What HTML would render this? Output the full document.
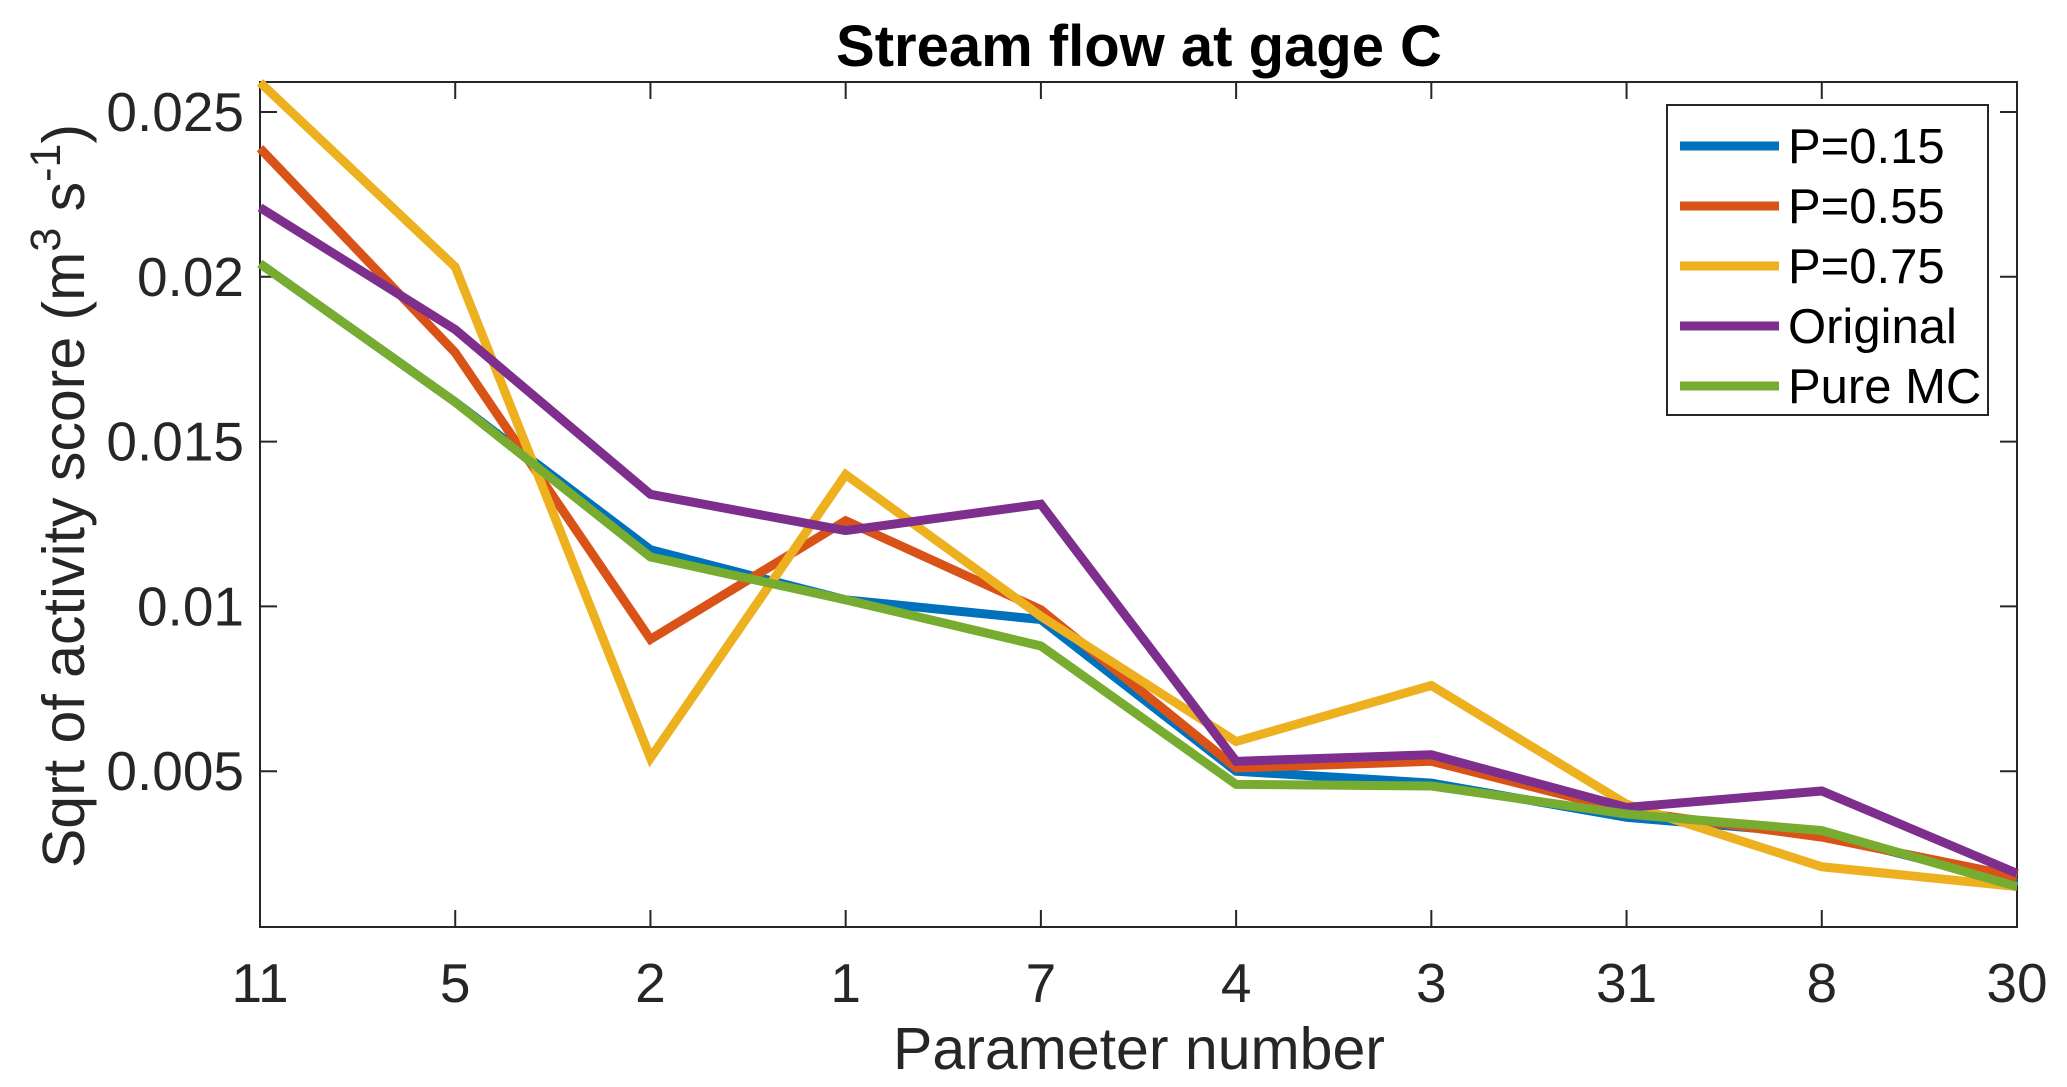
<!DOCTYPE html>
<html><head><meta charset="utf-8"><style>html,body{margin:0;padding:0;background:#fff}svg{display:block}text{font-family:"Liberation Sans",sans-serif;fill:#262626}</style></head>
<body>
<svg id="chart" width="2067" height="1087" viewBox="0 0 2067 1087" xmlns="http://www.w3.org/2000/svg">
<rect width="2067" height="1087" fill="#fff"/>
<text x="1139" y="66" text-anchor="middle" font-size="58" font-weight="bold" style="fill:#000">Stream flow at gage C</text>
<g id="plot"></g>
<text x="1139" y="1069" text-anchor="middle" font-size="59">Parameter number</text>
<text transform="translate(84,496) rotate(-90)" text-anchor="middle" font-size="59">Sqrt of activity score (m<tspan dy="-24" font-size="43">3</tspan><tspan dy="24"> s</tspan><tspan dy="-24" font-size="43">-1</tspan><tspan dy="24">)</tspan></text>
</svg>
<script>
const categories = ["11","5","2","1","7","4","3","31","8","30"];
const seriesNames = ["P=0.15","P=0.55","P=0.75","Original","Pure MC"];
const p015 = [0.0204,0.0162,0.01172,0.0102,0.0096,0.0050,0.00464,0.0036,0.0031,0.0016];
const p055 = [0.0239,0.0177,0.0090,0.0126,0.0099,0.0051,0.0053,0.0038,0.0030,0.0018];
const p075 = [0.0259,0.0203,0.0054,0.0140,0.0097,0.0059,0.0076,0.0040,0.0021,0.0015];
const original = [0.0221,0.0184,0.0134,0.0123,0.0131,0.0053,0.0055,0.0039,0.0044,0.0019];
const pureMC = [0.0204,0.0162,0.0115,0.0102,0.0088,0.0046,0.00455,0.0037,0.0032,0.0015];
const yTicks = [0.005,0.01,0.015,0.02,0.025];
const yTickLabels = ["0.005","0.01","0.015","0.02","0.025"];
const colors = ["#0072BD","#D95319","#EDB120","#7E2F8E","#77AC30"];
const NS="http://www.w3.org/2000/svg";
const L=260,R=2017,T=82,B=927;
const x=i=>L+i*(R-L)/(categories.length-1);
const y=v=>936-v*(936-112)/0.025;
const g=document.getElementById('plot');
function mk(t,a){const e=document.createElementNS(NS,t);for(const k in a)e.setAttribute(k,a[k]);return e;}
const box=mk('rect',{x:L,y:T,width:R-L,height:B-T,fill:'none',stroke:'#262626','stroke-width':2});


g.appendChild(box);
categories.forEach((c,i)=>{
  const t1=mk('line',{x1:x(i),x2:x(i),y1:B,y2:B-17,stroke:'#262626','stroke-width':2});
  
  
  g.appendChild(t1);
  const t2=mk('line',{x1:x(i),x2:x(i),y1:T,y2:T+17,stroke:'#262626','stroke-width':2});
  
  
  g.appendChild(t2);
  const tx=mk('text',{x:x(i),y:1002,'text-anchor':'middle','font-size':55});
  tx.textContent=c;
  
  
  g.appendChild(tx);
});
yTicks.forEach((v,i)=>{
  const t1=mk('line',{x1:L,x2:L+17,y1:y(v),y2:y(v),stroke:'#262626','stroke-width':2});
  
  
  g.appendChild(t1);
  const t2=mk('line',{x1:R,x2:R-17,y1:y(v),y2:y(v),stroke:'#262626','stroke-width':2});
  
  
  g.appendChild(t2);
  const tx=mk('text',{x:244,y:y(v)+19,'text-anchor':'end','font-size':55});
  tx.textContent=yTickLabels[i];
  
  
  g.appendChild(tx);
});
const data=[p015,p055,p075,original,pureMC];
data.forEach((s,k)=>{
  const pts=s.map((v,i)=>x(i)+','+y(v)).join(' ');
  const pl=mk('polyline',{points:pts,fill:'none',stroke:colors[k],'stroke-width':9,'stroke-linejoin':'miter'});
  
  
  g.appendChild(pl);
});
const lg=mk('g',{});


g.appendChild(lg);
const lb=mk('rect',{x:1667,y:105,width:321,height:310,fill:'#fff',stroke:'#262626','stroke-width':2});


lg.appendChild(lb);
seriesNames.forEach((n,k)=>{
  const yy=146+k*60;
  const ln=mk('line',{x1:1680,x2:1779,y1:yy,y2:yy,stroke:colors[k],'stroke-width':9});
  
  
  lg.appendChild(ln);
  const tx=mk('text',{x:1788,y:yy+17,'font-size':49,style:'fill:#000'});
  tx.textContent=n;
  
  
  lg.appendChild(tx);
});
</script>
</body></html>
